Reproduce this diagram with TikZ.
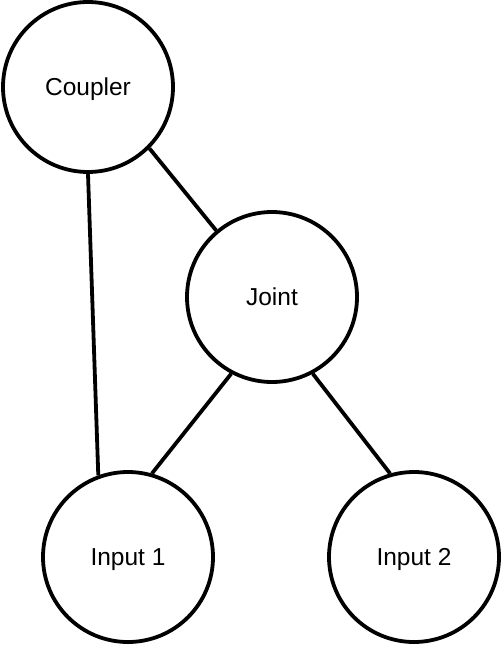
\documentclass[tikz,border=0pt]{standalone}
\usepackage{fontspec}
\setmainfont{Liberation Sans}
\usetikzlibrary{shapes,arrows}

\begin{document}
\begin{tikzpicture}[x=1pt, y=-1pt,
    part/.style={circle, draw, line width=3.8pt, minimum size=170pt, inner sep=0pt, text depth=0pt, font=\fontsize{24.5}{28}\selectfont},
    link/.style={line width=3.8pt}]

    \useasboundingbox (0,0) rectangle (502,645);

    % parts
    \node[part] (coupler) at (88,87) {Coupler};
    \node[part] (joint) at (272,297) {Joint};
    \node[part] (input1) at (128,557) {Input 1};
    \node[part] (input2) at (414,557) {Input 2};

    % links
    \draw [link] (coupler.-90) -- (input1.110);
    \draw [link] (coupler.-45) -- (joint.130);
    \draw [link] (joint.-118) -- (input1.74);
    \draw [link] (joint.-62) -- (input2.106);
\end{tikzpicture}
\end{document}
